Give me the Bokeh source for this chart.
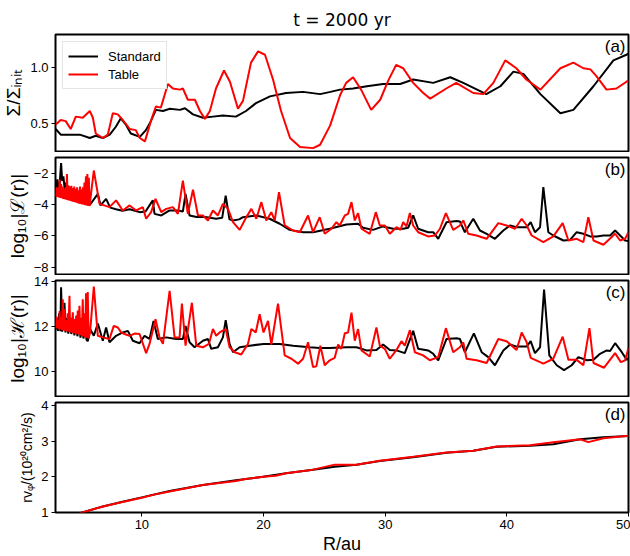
from bokeh.plotting import figure
from bokeh.layouts import column
from bokeh.models import Range1d, FixedTicker, Label
from bokeh.embed import file_html
from bokeh.resources import INLINE

# ---------------- data ----------------
x_ticks = [10, 20, 30, 40, 50]

# panel (a) surface density ratio
r_sig_std = [2.92, 3.33, 4.07, 4.9, 5.72, 6.21, 6.79, 7.36, 7.86, 8.27, 8.68, 9.09, 9.83, 10.33,
             10.74, 11.15, 11.73, 12.3, 13.13, 13.54, 14.2, 15.02, 15.84, 16.66, 17.73, 18.56,
             19.38, 20.53, 21.85, 23.25, 24.65, 25.5, 26.29, 27.36, 28.5, 29.83, 31.23, 32.3,
             33.95, 35.35, 36.42, 38.31, 39.47, 40.54, 41.36, 42.76, 44.4, 45.47, 47.12, 48.76,
             49.83, 50.0]
sig_std = [0.45, 0.40, 0.40, 0.40, 0.37, 0.39, 0.37, 0.40, 0.47, 0.545, 0.49, 0.41, 0.38, 0.44,
           0.52, 0.62, 0.61, 0.63, 0.62, 0.635, 0.58, 0.55, 0.56, 0.57, 0.56, 0.61,
           0.68, 0.74, 0.77, 0.78, 0.76, 0.78, 0.80, 0.81, 0.83, 0.85, 0.85, 0.89,
           0.86, 0.91, 0.86, 0.76, 0.83, 0.96, 0.94, 0.76, 0.59, 0.62, 0.83, 1.06,
           1.11, 1.12]
r_sig_tab = [2.92, 3.33, 3.74, 4.15, 4.57, 5.14, 5.72, 5.97, 6.21, 6.79, 7.20, 7.61, 8.02, 8.43,
             9.01, 9.50, 9.83, 10.25, 10.74, 11.15, 11.56, 12.14, 12.55, 13.13, 13.37, 13.78,
             14.36, 14.77, 15.18, 15.59, 16.09, 16.75, 17.24, 17.90, 18.31, 18.97, 19.55, 20.12,
             20.78, 21.44, 22.18, 23.0, 24.07, 24.65, 25.47, 26.29, 26.79, 27.36, 28.02, 28.85,
             29.59, 30.25, 30.9, 31.48, 32.3, 33.13, 33.7, 35.02, 35.84, 37.24, 38.06, 38.89,
             39.87, 40.78, 41.6, 42.76, 44.4, 45.47, 46.29, 46.87, 47.36, 48.19, 49.01, 49.83, 50.0]
sig_tab = [0.49, 0.53, 0.52, 0.45, 0.56, 0.55, 0.61, 0.55, 0.41, 0.37, 0.40, 0.59, 0.58, 0.53,
           0.45, 0.44, 0.37, 0.34, 0.52, 0.65, 0.64, 0.85, 0.81, 0.80, 0.81, 0.71,
           0.71, 0.61, 0.54, 0.61, 0.81, 0.97, 0.87, 0.63, 0.70, 1.04, 1.14, 1.11,
           0.89, 0.61, 0.37, 0.29, 0.28, 0.31, 0.48, 0.75, 0.86, 0.91, 0.80, 0.62,
           0.71, 0.88, 1.02, 0.99, 0.86, 0.77, 0.72, 0.81, 0.86, 0.77, 0.76, 0.86,
           1.06, 0.99, 0.89, 0.80, 0.99, 1.04, 0.99, 0.98, 0.92, 0.80, 0.81, 0.87, 0.88]

# panel (b) log10|L(r)|
r_L_std = [2.92, 3.05, 3.15, 3.25, 3.36, 3.45, 3.55, 3.65, 3.75, 3.85, 3.95, 4.1, 4.25, 4.4,
           4.55, 4.7, 4.85, 5.0, 5.15, 5.3, 5.45, 5.6, 5.75, 6.38, 6.6, 7.06, 7.4, 7.88, 8.4,
           9.0, 9.81, 10.3, 10.9, 11.04, 11.6, 12.28, 13.0, 13.37, 13.59, 13.92, 14.5, 15.2,
           16.11, 16.6, 16.89, 17.2, 17.49, 18.0, 18.31, 19.41, 20.5, 21.33, 22.15, 23.25,
           24.07, 25.44, 26.81, 27.77, 28.18, 29.0, 29.83, 30.65, 31.48, 31.89, 32.3, 32.71,
           33.53, 33.95, 34.36, 35.04, 35.87, 36.14, 36.55, 37.24, 37.79, 38.34, 39.02, 39.71,
           40.26, 40.8, 41.63, 41.96, 42.31, 42.73, 43.0, 43.41, 43.82, 44.65, 45.2, 45.74,
           46.29, 46.84, 47.39, 47.94, 48.49, 48.9, 49.31, 49.72, 50.0]
L_std = [-3.2, -2.4, -3.3, -2.6, -1.35, -2.5, -2.2, -3.0, -2.6, -3.4, -2.8, -3.5, -3.0, -3.6,
         -3.1, -3.7, -3.2, -3.8, -3.2, -3.9, -3.0, -3.95, -4.0, -3.32, -4.06, -3.64, -4.2, -4.3, -4.4,
         -4.3, -4.49, -4.45, -3.74, -4.6, -4.7, -4.38, -4.38, -4.45, -3.32, -4.70, -4.8, -4.8,
         -4.91, -4.85, -3.43, -4.95, -5.02, -4.95, -4.81, -4.70, -4.91, -5.23, -5.62, -5.77,
         -5.77, -5.55, -5.28, -5.23, -5.49, -5.62, -5.40, -5.55, -5.55, -5.49, -4.70, -5.55,
         -5.77, -5.77, -6.19, -5.13, -5.06, -5.08, -5.77, -4.91, -5.66, -5.87, -6.19, -5.66,
         -5.34, -5.45, -5.45, -5.13, -5.77, -5.45, -2.89, -5.77, -5.98, -6.30, -6.26, -5.77,
         -5.87, -6.04, -6.04, -5.98, -5.98, -5.66, -5.98, -6.30, -6.34]
r_L_tab = [2.92, 3.00, 3.06, 3.12, 3.18, 3.24, 3.30, 3.36, 3.42, 3.48, 3.54, 3.60, 3.66, 3.72,
           3.78, 3.84, 3.90, 3.96, 4.02, 4.08, 4.14, 4.20, 4.26, 4.32, 4.38, 4.44, 4.50, 4.56,
           4.62, 4.68, 4.74, 4.80, 4.86, 4.92, 4.98, 5.04, 5.10, 5.16, 5.22, 5.28, 5.34, 5.40,
           5.46, 5.52, 5.58, 5.64, 5.70, 6.05, 6.52, 7.34, 7.88, 8.43, 8.99, 9.53, 10.08, 10.35,
           10.76, 11.12, 11.59, 12.0, 12.55, 12.96, 13.37, 13.78, 14.2, 14.61, 15.02, 15.43,
           15.84, 16.25, 16.66, 17.08, 17.49, 18.04, 18.58, 19.0, 19.41, 19.82, 20.23, 20.64,
           20.92, 21.27, 21.74, 22.43, 22.98, 23.66, 24.07, 24.62, 25.03, 25.58, 25.99, 26.26,
           26.68, 26.95, 27.23, 27.5, 27.77, 28.05, 28.73, 29.23, 29.56, 29.97, 30.38, 30.93,
           31.26, 31.48, 31.75, 32.03, 32.3, 32.71, 33.53, 34.08, 34.5, 34.99, 35.59, 36.14,
           36.42, 36.83, 37.51, 38.34, 39.3, 39.98, 40.67, 41.22, 41.63, 42.04, 43.0, 43.82,
           44.59, 45.06, 45.74, 46.29, 46.7, 47.12, 47.94, 48.9, 49.31, 49.72, 50.0]
L_tab = [-3.50, -2.90, -3.52, -2.95, -3.55, -2.40, -3.58, -2.70, -3.60, -2.85, -3.64, -3.00,
         -3.66, -2.90, -3.69, -2.05, -3.72, -2.80, -3.75, -2.85, -3.78, -2.80, -3.81, -2.95,
         -3.84, -2.85, -3.86, -3.00, -3.89, -2.90, -3.92, -3.10, -3.95, -2.85, -3.97, -3.05,
         -4.00, -2.90, -4.02, -2.60, -4.05, -2.20, -4.07, -2.05, -4.10, -2.30, -4.10, -1.83,
         -3.96, -4.17, -3.74, -4.38, -4.06, -4.38, -4.17, -4.91, -4.49, -3.64, -4.49, -4.28,
         -4.17, -4.60, -2.47, -4.60, -3.06, -4.70, -4.70, -5.02, -4.38, -4.70, -3.96, -4.28,
         -5.13, -5.62, -4.81, -4.28, -4.91, -3.85, -5.02, -4.49, -5.02, -3.21, -5.34, -5.66,
         -5.77, -4.70, -5.77, -4.81, -5.87, -5.55, -5.13, -5.34, -4.70, -4.60, -3.85, -5.02,
         -4.55, -5.55, -5.87, -4.49, -5.34, -5.34, -5.87, -5.45, -5.62, -5.13, -5.40, -4.55,
         -5.34, -5.77, -6.04, -5.98, -5.55, -4.55, -5.62, -5.34, -5.02, -5.87, -5.98, -6.19,
         -5.19, -5.34, -5.55, -4.91, -5.34, -5.98, -6.40, -6.04, -5.19, -6.30, -6.19, -6.40,
         -4.81, -6.30, -6.57, -5.87, -6.30, -6.19, -5.77]

# panel (c) log10|H(r)|
r_H_std = [2.92, 3.0, 3.1, 3.2, 3.3, 3.36, 3.45, 3.55, 3.64, 3.72, 3.85, 3.95, 4.1, 4.2, 4.35,
           4.45, 4.6, 4.7, 4.85, 4.95, 5.1, 5.2, 5.35, 5.45, 5.55, 5.74, 6.05, 6.38, 6.79, 7.06,
           7.34, 7.88, 8.43, 8.85, 9.26, 9.81, 10.22, 10.63, 10.96, 11.31, 12.0, 12.82, 13.37,
           13.59, 13.92, 14.33, 15.02, 15.43, 15.7, 16.25, 16.66, 16.89, 17.21, 17.49, 18.04,
           18.86, 20.0, 21.33, 22.43, 23.8, 24.62, 25.44, 26.81, 27.64, 28.46, 29.28, 29.83,
           30.38, 30.93, 31.61, 32.3, 32.71, 33.53, 33.95, 34.36, 35.04, 35.87, 36.14, 36.55,
           37.29, 37.93, 38.47, 39.02, 39.71, 40.26, 40.8, 41.63, 41.96, 42.31, 42.73, 43.06,
           43.49, 44.1, 44.7, 45.33, 45.88, 46.57, 47.12, 47.66, 48.21, 48.49, 48.9, 49.45,
           49.86, 50.0]
H_std = [11.9, 12.4, 11.82, 12.6, 11.8, 13.76, 11.78, 12.5, 13.07, 11.75, 12.4, 11.7, 12.2,
         11.68, 12.3, 11.62, 12.1, 11.58, 12.2, 11.52, 12.0, 11.48, 12.1, 11.42, 11.36, 11.9,
         11.6, 12.15, 11.38, 11.97, 11.31, 11.6, 11.75, 11.82, 11.38, 11.27, 11.6, 11.46,
         12.26, 11.46, 11.53, 11.46, 11.46, 12.04, 11.31, 11.09, 11.38, 11.46, 11.02, 11.09,
         11.53, 12.3, 11.24, 10.87, 11.09, 11.16, 11.24, 11.24, 11.16, 11.09, 11.06, 11.06,
         11.09, 11.09, 10.95, 10.97, 11.21, 10.97, 10.95, 10.83, 11.82, 11.02, 10.95, 10.8,
         10.51, 11.46, 11.49, 11.46, 10.87, 11.71, 10.87, 10.65, 10.29, 10.95, 11.21, 11.12,
         11.12, 11.36, 10.83, 11.09, 13.66, 10.73, 10.29, 10.07, 10.29, 10.65, 10.51, 10.53,
         10.8, 10.95, 10.92, 11.27, 10.87, 10.53, 10.6]
r_H_tab = [2.92, 3.00, 3.06, 3.12, 3.18, 3.24, 3.30, 3.36, 3.42, 3.50, 3.56, 3.64, 3.70, 3.78,
           3.84, 3.90, 3.96, 4.05, 4.10, 4.18, 4.24, 4.32, 4.38, 4.46, 4.52, 4.60, 4.66, 4.73,
           4.79, 4.87, 4.93, 5.00, 5.06, 5.14, 5.20, 5.28, 5.34, 5.41, 5.47, 5.55, 5.62, 5.74,
           6.05, 6.38, 6.79, 7.34, 7.69, 8.02, 8.30, 8.57, 8.99, 9.40, 9.81, 10.35, 10.63,
           11.12, 11.45, 11.73, 12.28, 12.69, 13.10, 13.29, 13.59, 14.11, 14.47, 15.02, 15.51,
           15.84, 16.11, 16.39, 16.89, 17.21, 17.63, 18.17, 18.72, 19.0, 19.36, 19.68, 20.0,
           20.37, 20.64, 21.19, 21.74, 22.29, 22.84, 23.25, 23.66, 24.07, 24.34, 24.67, 25.03,
           25.44, 25.85, 26.13, 26.4, 26.68, 26.95, 27.23, 27.5, 27.77, 28.05, 28.73, 29.28,
           29.56, 29.97, 30.38, 30.93, 31.34, 31.61, 32.03, 32.44, 33.12, 33.67, 34.36, 34.99,
           35.59, 36.14, 36.42, 36.69, 37.51, 38.34, 39.3, 39.98, 40.8, 41.22, 41.63, 41.96,
           43.0, 43.82, 44.59, 45.06, 45.74, 46.29, 46.79, 47.12, 47.99, 48.9, 49.37, 49.72, 50.0]
H_tab = [11.95, 12.45, 11.93, 12.30, 11.90, 12.70, 11.88, 12.40, 11.86, 13.23, 11.84, 12.79,
         11.82, 12.30, 11.80, 12.60, 11.78, 13.38, 11.76, 12.40, 11.74, 12.65, 11.72, 12.35,
         11.70, 12.50, 11.68, 12.72, 11.66, 12.94, 11.63, 12.40, 11.60, 13.23, 11.57, 12.60,
         11.54, 13.49, 11.51, 13.55, 11.48, 11.75, 13.79, 11.6, 11.53, 11.46, 12.04, 11.97,
         11.75, 11.68, 11.6, 11.7, 11.68, 10.83, 11.24, 12.34, 11.53, 11.24, 13.6, 11.53,
         11.53, 13.03, 11.16, 13.07, 11.16, 11.09, 11.24, 11.9, 11.6, 11.75, 11.9, 11.09,
         10.87, 10.77, 11.24, 11.9, 11.75, 12.56, 11.75, 12.26, 11.21, 13.03, 10.73, 10.58,
         10.36, 10.58, 11.31, 10.21, 10.24, 11.16, 10.29, 10.51, 10.62, 11.21, 11.02, 11.71,
         11.75, 12.63, 11.38, 11.9, 10.95, 10.68, 11.97, 11.16, 11.02, 10.58, 10.97, 11.36,
         11.16, 11.85, 10.87, 10.73, 10.51, 10.65, 11.94, 10.87, 11.09, 11.31, 10.58, 10.51,
         10.39, 11.46, 11.36, 10.97, 11.75, 11.31, 10.62, 10.36, 10.58, 11.56, 10.53, 10.53,
         10.29, 11.94, 10.39, 10.18, 10.83, 10.43, 10.51, 11.06]

# panel (d) r v_phi in 1e20 cm^2/s
r_v_std = [4.9, 6.79, 8.5, 10.08, 12.28, 15.02, 17.73, 19.96, 21.85, 24.07, 25.85, 27.64, 29.56,
           32.3, 35.04, 37.24, 39.16, 41.9, 43.82, 46.02, 47.94, 50.0]
v_std = [0.98, 1.17, 1.31, 1.43, 1.60, 1.77, 1.90, 2.0, 2.10, 2.20, 2.28, 2.34, 2.44,
         2.55, 2.67, 2.73, 2.84, 2.87, 2.91, 3.05, 3.11, 3.14]
r_v_tab = [4.9, 6.79, 8.5, 10.08, 11.0, 12.28, 15.02, 17.73, 18.5, 19.96, 21.0, 21.85, 24.07,
           25.85, 27.64, 29.56, 32.3, 35.04, 37.24, 39.16, 41.9, 43.82, 46.02, 46.7, 47.94, 50.0]
v_tab = [0.98, 1.17, 1.30, 1.42, 1.50, 1.59, 1.77, 1.88, 1.94, 2.0, 2.03, 2.10, 2.20,
         2.34, 2.34, 2.45, 2.56, 2.68, 2.73, 2.85, 2.88, 2.97, 3.05, 2.97, 3.08, 3.15]

# ---------------- figures ----------------
FONT = "Liberation Sans"
W = 630
x_range = Range1d(2.9, 50.0)


def tick_text(t):
    if t < 0:
        return "\u2212" + f"{-t:g}"
    if isinstance(t, float):
        return f"{t:.1f}"
    return str(t)


def make_fig(height, yr, yticks, ylabel, ylab_size, top, bottom, panel, show_x=False):
    p = figure(width=W, height=height, x_range=x_range, y_range=Range1d(*yr),
               output_backend="svg", toolbar_location=None,
               min_border_left=53, min_border_right=2,
               min_border_top=top, min_border_bottom=bottom)
    p.grid.visible = False
    p.outline_line_color = "black"
    p.outline_line_width = 2
    p.background_fill_color = "white"
    p.border_fill_color = "white"
    ya = p.yaxis[0]
    ya.ticker = FixedTicker(ticks=yticks)
    ya.major_label_overrides = {t: tick_text(t) for t in yticks}
    ya.axis_label = ylabel
    ya.axis_label_text_font = FONT
    ya.axis_label_text_font_style = "normal"
    ya.axis_label_text_font_size = ylab_size
    ya.axis_label_text_color = "black"
    ya.axis_label_standoff = 3
    ya.major_label_text_font = FONT
    ya.major_label_text_font_size = "13px"
    ya.major_label_text_color = "black"
    ya.major_label_standoff = 3
    ya.major_tick_out = 4
    ya.major_tick_in = 0
    ya.minor_tick_out = 0
    ya.minor_tick_in = 0
    ya.axis_line_color = None
    ya.major_tick_line_color = "black"
    xa = p.xaxis[0]
    xa.ticker = FixedTicker(ticks=x_ticks)
    xa.axis_line_color = None
    xa.minor_tick_out = 0
    xa.minor_tick_in = 0
    xa.major_tick_in = 0
    xa.major_tick_out = 4
    xa.major_tick_line_color = "black"
    if show_x:
        xa.major_label_text_font = FONT
        xa.major_label_text_font_size = "13px"
        xa.major_label_text_color = "black"
        xa.major_label_standoff = 3
        xa.axis_label = "R/au"
        xa.axis_label_text_font = FONT
        xa.axis_label_text_font_style = "normal"
        xa.axis_label_text_font_size = "18px"
        xa.axis_label_text_color = "black"
        xa.axis_label_standoff = 2
    else:
        xa.visible = False
    lab = Label(x=50.0, y=yr[1], text=panel, text_align="right", text_baseline="top",
                x_offset=-3, y_offset=-2, text_font=FONT, text_font_size="17px",
                text_color="black")
    p.add_layout(lab)
    return p


pa = make_fig(152, (0.25, 1.29), [0.5, 1.0], "Σ/Σᵢₙᵢₜ", "19px", 34, 1, "(a)")
pa.line(r_sig_std, sig_std, line_color="black", line_width=2, legend_label="Standard")
pa.line(r_sig_tab, sig_tab, line_color="red", line_width=2, legend_label="Table")
pa.legend.location = "top_left"
pa.legend.margin = 7
pa.legend.padding = 5
pa.legend.spacing = 0
pa.legend.label_text_font = FONT
pa.legend.label_text_font_size = "13px"
pa.legend.label_text_color = "black"
pa.legend.glyph_width = 30
pa.legend.glyph_height = 18
pa.legend.label_height = 18
pa.legend.label_standoff = 10
pa.legend.border_line_color = "#cccccc"
pa.legend.border_line_width = 1
pa.legend.background_fill_alpha = 0.9
pa.title.text = "t = 2000 yr"
pa.title.align = "center"
pa.title.text_font = "DejaVu Sans"
pa.title.text_font_style = "normal"
pa.title.text_font_size = "17px"
pa.title.text_color = "black"

pb = make_fig(123, (-8.47, -1.0), [-8, -6, -4, -2], "log₁₀|ℒ(r)|", "19px", 5, 1, "(b)")
pb.line(r_L_std, L_std, line_color="black", line_width=2)
pb.line(r_L_tab, L_tab, line_color="red", line_width=2)

pc = make_fig(122, (8.9, 14.06), [10, 12, 14], "log₁₀|ℋ(r)|", "19px", 5, 1, "(c)")
pc.line(r_H_std, H_std, line_color="black", line_width=2)
pc.line(r_H_tab, H_tab, line_color="red", line_width=2)

pd_ = make_fig(159, (1.0, 4.08), [1, 2, 3, 4], "rvᵩ/(10²⁰cm²/s)", "14px", 5, 36, "(d)", show_x=True)
pd_.line(r_v_std, v_std, line_color="black", line_width=2)
pd_.line(r_v_tab, v_tab, line_color="red", line_width=2)

layout = column(pa, pb, pc, pd_, spacing=0)
open("out.html", "w").write(file_html(layout, INLINE))
